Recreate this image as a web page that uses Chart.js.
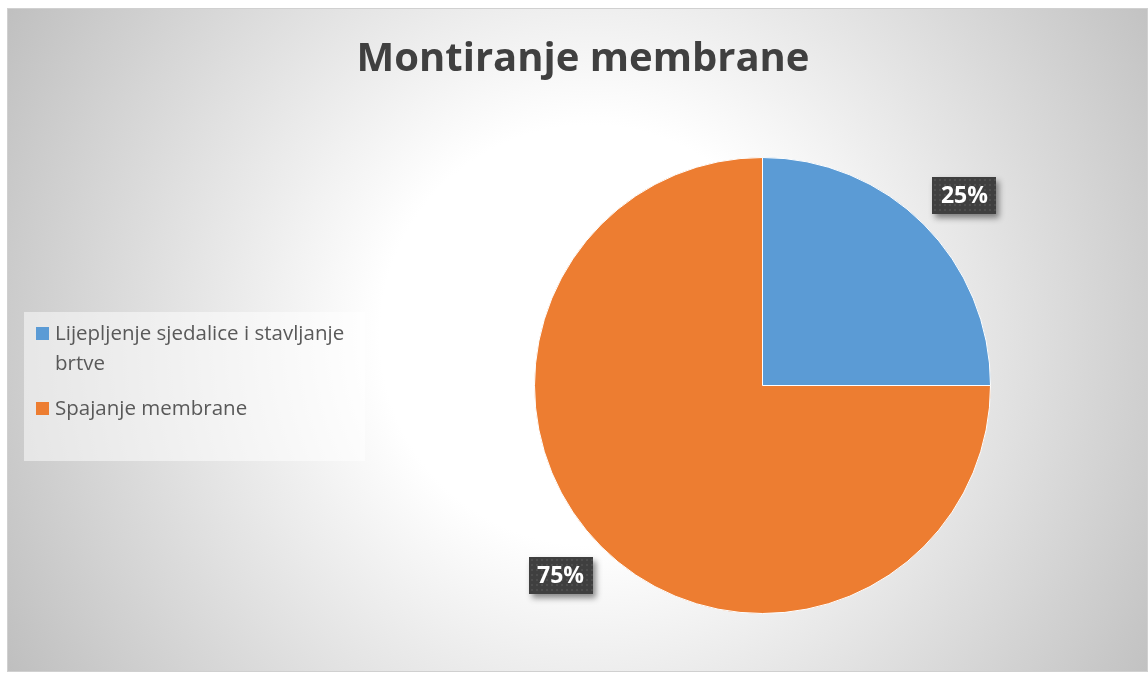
<!DOCTYPE html>
<html>
<head>
<meta charset="utf-8">
<script src="https://cdn.jsdelivr.net/npm/chart.js@4/dist/chart.umd.min.js"></script>
<style>
	html, body { margin: 0; padding: 0; background: #fff; }
	#wrap { position: relative; width: 1148px; height: 673px; }
</style>
</head>
<body>
<div id="wrap"><canvas id="canvas-pie" width="1148" height="673"></canvas></div>
<script>
var naslov = "Montiranje membrane";
var kategorije = ["Lijepljenje sjedalice i stavljanje brtve", "Spajanje membrane"];
var vrijednosti = [25, 75];
var boje = ["#5B9BD5", "#ED7D31"];
var FONT = "'Open Sans', 'Noto Sans', sans-serif";

// pozadina, naslov i legenda iscrtani u pluginu
var okvirPlugin = {
	id: 'okvir',
	beforeDraw: function(chart){
		var ctx = chart.ctx;
		ctx.save();
		ctx.fillStyle = "#ffffff";
		ctx.fillRect(0, 0, chart.width, chart.height);
		var g = ctx.createRadialGradient(590, 335, 0, 590, 335, 700);
		g.addColorStop(0, "#ffffff");
		g.addColorStop(0.3, "#ffffff");
		g.addColorStop(1, "#bbbbbb");
		ctx.fillStyle = g;
		ctx.fillRect(7, 8, chart.width - 7, 664);
		ctx.strokeStyle = "#d0d0d0";
		ctx.lineWidth = 1;
		ctx.strokeRect(7.5, 8.5, chart.width - 8, 663);

		// naslov
		ctx.fillStyle = "#404040";
		ctx.font = "bold 40px " + FONT;
		ctx.textAlign = "center";
		ctx.textBaseline = "middle";
		ctx.fillText(naslov, 583, 60);

		// legenda
		ctx.fillStyle = "rgba(255,255,255,0.5)";
		ctx.fillRect(24, 312, 341, 149);
		ctx.font = "20.5px " + FONT;
		ctx.textAlign = "left";
		ctx.textBaseline = "middle";
		var redovi = [["Lijepljenje sjedalice i stavljanje", "brtve"], ["Spajanje membrane"]];
		var y0 = [334, 409];
		for (var i = 0; i < kategorije.length; i++) {
			ctx.fillStyle = boje[i];
			ctx.fillRect(36, y0[i] - 7, 13, 13);
			ctx.fillStyle = "#595959";
			for (var j = 0; j < redovi[i].length; j++) {
				ctx.fillText(redovi[i][j], 55, y0[i] + j * 30);
			}
		}
		ctx.restore();
	},
	afterDatasetsDraw: function(chart){
		var ctx = chart.ctx;
		var meta = chart.getDatasetMeta(0);
		var ukupno = vrijednosti.reduce(function(a, b){ return a + b; }, 0);
		meta.data.forEach(function(arc, i){
			var p = arc.getProps(['x', 'y', 'startAngle', 'endAngle', 'outerRadius'], true);
			var kut = (p.startAngle + p.endAngle) / 2 + 1.8 * Math.PI / 180;
			var r = p.outerRadius * 1.215;
			var cx = p.x + Math.cos(kut) * r;
			var cy = p.y + Math.sin(kut) * r;
			var tekst = Math.round(vrijednosti[i] / ukupno * 100) + "%";
			var w = 64, h = 37;
			var x = Math.round(cx - w / 2), y = Math.round(cy - h / 2);
			ctx.save();
			ctx.shadowColor = "rgba(0,0,0,0.45)";
			ctx.shadowBlur = 6;
			ctx.shadowOffsetX = 3;
			ctx.shadowOffsetY = 4;
			ctx.fillStyle = "#3f3f3f";
			ctx.fillRect(x, y, w, h);
			ctx.restore();
			// tockasti uzorak
			ctx.save();
			ctx.fillStyle = "#4d4d4d";
			for (var yy = y + 2; yy < y + h - 1; yy += 5) {
				for (var xx = x + 2; xx < x + w - 1; xx += 5) {
					ctx.fillRect(xx, yy, 2, 2);
				}
			}
			ctx.fillStyle = "#ffffff";
			ctx.font = "bold 23px " + FONT;
			ctx.textAlign = "center";
			ctx.textBaseline = "middle";
			ctx.fillText(tekst, cx, cy + 1);
			ctx.restore();
		});
	}
};

var ctx = document.getElementById("canvas-pie").getContext("2d");
var config = {
	type: 'pie',
	data: {
		labels: kategorije,
		datasets: [{
			data: vrijednosti,
			backgroundColor: boje,
			borderColor: "#ffffff",
			borderWidth: 1
		}]
	},
	options: {
		responsive: false,
		animation: false,
		layout: {
			padding: { left: 534, right: 157, top: 157, bottom: 59 }
		},
		plugins: {
			legend: { display: false },
			tooltip: { enabled: false },
			title: { display: false }
		}
	},
	plugins: [okvirPlugin]
};
var chart = new Chart(ctx, config);
</script>
</body>
</html>
